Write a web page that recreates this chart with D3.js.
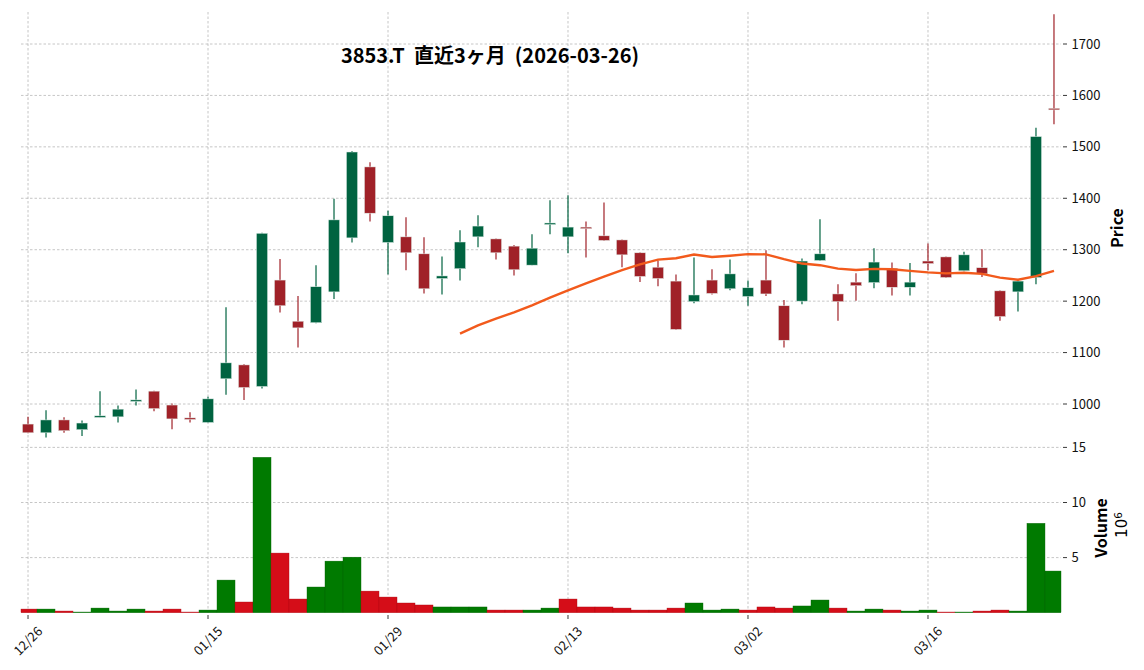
<!DOCTYPE html>
<html><head><meta charset="utf-8">
<script src="https://cdn.jsdelivr.net/npm/d3@7"></script>
<style>
html,body{margin:0;padding:0;background:#fff;}
text{font-family:"Noto Sans CJK JP","Noto Sans",sans-serif;}
</style></head>
<body>
<svg id="chart" width="1144" height="670"></svg>
<script>
const dates = ["12/26","12/29","12/30","01/05","01/06","01/07","01/08","01/09","01/13","01/14",
"01/15","01/16","01/19","01/20","01/21","01/22","01/23","01/26","01/27","01/28",
"01/29","01/30","02/02","02/03","02/04","02/05","02/06","02/09","02/10","02/12",
"02/13","02/16","02/17","02/18","02/19","02/20","02/24","02/25","02/26","02/27",
"03/02","03/03","03/04","03/05","03/06","03/09","03/10","03/11","03/12","03/13",
"03/16","03/17","03/18","03/19","03/23","03/24","03/25","03/26"];
const opens  = [961,944,969,950,974,975,1005,1025,998,973,964,1049,1076,1034,1241,1161,1158,1218,1323,1461,
1314,1325,1292,1244,1263,1325,1321,1307,1270,1349,1325,1344,1327,1319,1294,1266,1239,1199,1241,1224,
1209,1241,1191,1200,1279,1214,1237,1236,1264,1227,1278,1286,1259,1265,1220,1218,1246,1575];
const highs  = [975,988,974,968,1025,997,1028,1026,1001,984,1014,1188,1078,1333,1282,1210,1270,1399,1492,1470,
1376,1363,1324,1287,1338,1367,1322,1309,1330,1396,1406,1355,1392,1320,1295,1279,1252,1285,1262,1281,
1240,1299,1202,1283,1359,1233,1254,1303,1275,1274,1312,1287,1296,1301,1221,1243,1537,1758];
const lows   = [943,935,944,938,974,964,997,986,951,964,963,1018,1008,1030,1178,1110,1157,1204,1314,1355,
1252,1260,1215,1213,1240,1305,1281,1250,1270,1330,1293,1285,1317,1266,1237,1229,1144,1196,1213,1221,
1191,1210,1110,1194,1278,1162,1201,1225,1211,1211,1260,1245,1258,1247,1162,1180,1233,1544];
const closes = [944,969,948,963,977,990,1008,991,971,970,1010,1080,1032,1332,1191,1148,1228,1358,1490,1371,
1366,1294,1224,1249,1315,1346,1294,1261,1303,1352,1344,1341,1318,1290,1248,1244,1145,1212,1215,1253,
1226,1214,1124,1278,1292,1199,1230,1276,1227,1237,1273,1246,1290,1253,1170,1239,1520,1573];
const volumes = [0.33,0.33,0.15,0.06,0.42,0.15,0.33,0.15,0.33,0.06,0.24,2.96,0.97,14.1,5.41,1.24,2.33,4.68,5.04,1.96,
1.42,0.88,0.70,0.52,0.52,0.52,0.24,0.24,0.24,0.42,1.24,0.52,0.52,0.42,0.24,0.24,0.42,0.88,0.24,0.33,
0.24,0.52,0.42,0.61,1.15,0.42,0.15,0.33,0.24,0.15,0.24,0.06,0.06,0.15,0.24,0.15,8.11,3.78];
const xTickIdx = [0,10,20,30,40,50];
const priceTicks = [1000,1100,1200,1300,1400,1500,1600,1700];
const volTicks = [5,10,15];
const maPeriod = 25;
const titleText = "3853.T  直近3ヶ月  (2026-03-26)";

const C = {up:"#006340", down:"#A02128", vup:"#007a00", vdown:"#d50d18", ma:"#f25a1c", grid:"#b8b8b8"};
const svg = d3.select("#chart");
const L = 21, R = 1061, PT = 12, PB = 447, VT = 447.4, VB = 612.7;
const n = closes.length;
const x = d3.scaleLinear().domain([-0.39, n - 1 + 0.39]).range([L, R]);
const y = d3.scaleLinear().domain([1000, 1700]).range([404, 44]);
const yv = d3.scaleLinear().domain([0, 15]).range([VB, VT]);
const step = x(1) - x(0);

// grid
const g = svg.append("g");
g.selectAll(".vg").data(xTickIdx).join("line")
  .attr("x1", d => x(d)).attr("x2", d => x(d)).attr("y1", PT).attr("y2", VB)
  .attr("stroke", C.grid).attr("stroke-width", 0.8).attr("stroke-dasharray", "2.5,2");
g.selectAll(".hg").data(priceTicks).join("line")
  .attr("x1", L).attr("x2", R).attr("y1", d => y(d)).attr("y2", d => y(d))
  .attr("stroke", C.grid).attr("stroke-width", 0.8).attr("stroke-dasharray", "2.5,2");
g.selectAll(".hv").data(volTicks).join("line")
  .attr("x1", L).attr("x2", R).attr("y1", d => yv(d)).attr("y2", d => yv(d))
  .attr("stroke", C.grid).attr("stroke-width", 0.8).attr("stroke-dasharray", "2.5,2");

// volume
const idx = d3.range(n);
const vColor = i => (i > 0 && closes[i] >= closes[i-1]) ? C.vup : C.vdown;
svg.append("g").selectAll("rect").data(idx).join("rect")
  .attr("x", i => Math.max(L, x(i) - step/2))
  .attr("width", i => Math.min(R, x(i) + step/2) - Math.max(L, x(i) - step/2))
  .attr("y", i => yv(volumes[i])).attr("height", i => yv(0) - yv(volumes[i]))
  .attr("fill", vColor).attr("stroke", i => d3.color(vColor(i)).darker(0.6)).attr("stroke-width", 0.4);

// candles
const cg = svg.append("g");
const cColor = i => closes[i] >= opens[i] ? C.up : C.down;
cg.selectAll("line").data(idx).join("line")
  .attr("x1", i => x(i)).attr("x2", i => x(i))
  .attr("y1", i => y(highs[i])).attr("y2", i => y(lows[i]))
  .attr("stroke", cColor).attr("stroke-width", 1.2);
const bw = step * 0.62;
cg.selectAll("rect").data(idx).join("rect")
  .attr("x", i => x(i) - bw/2).attr("width", bw)
  .attr("y", i => y(Math.max(opens[i], closes[i])))
  .attr("height", i => Math.max(1.6, Math.abs(y(opens[i]) - y(closes[i]))))
  .attr("fill", cColor).attr("stroke", "#e4f0ec").attr("stroke-width", 0.5);

// moving average
const ma = idx.map(i => i < maPeriod - 1 ? null : d3.mean(closes.slice(i - maPeriod + 1, i + 1)));
svg.append("path").datum(idx.filter(i => ma[i] !== null))
  .attr("d", d3.line().x(i => x(i)).y(i => y(ma[i])))
  .attr("fill", "none").attr("stroke", C.ma).attr("stroke-width", 2.4);

// right axes
const ax = svg.append("g");
const tickRow = (vals, sc, fmt) => {
  ax.append("g").selectAll("line").data(vals).join("line")
    .attr("x1", 1063).attr("x2", 1067).attr("y1", d => sc(d)).attr("y2", d => sc(d))
    .attr("stroke", "#222").attr("stroke-width", 0.9);
  ax.append("g").selectAll("text").data(vals).join("text")
    .attr("x", 1071.5).attr("y", d => sc(d)).attr("dy", "0.35em")
    .attr("font-size", 13).attr("fill", "#111").text(fmt);
};
tickRow(priceTicks, y, d => d);
tickRow(volTicks, yv, d => d);

// x axis
ax.append("g").selectAll("line").data(xTickIdx).join("line")
  .attr("x1", d => x(d)).attr("x2", d => x(d)).attr("y1", 615).attr("y2", 619)
  .attr("stroke", "#222").attr("stroke-width", 0.9);
ax.append("g").selectAll("text").data(xTickIdx).join("text")
  .attr("transform", d => `translate(${x(d)},641) rotate(-45)`)
  .attr("text-anchor", "middle").attr("dy", "0.35em")
  .attr("font-size", 13).attr("fill", "#111").text(d => dates[d]);

// axis labels
svg.append("text").attr("transform", "translate(1117,228) rotate(-90)")
  .attr("text-anchor", "middle").attr("dy", "0.35em")
  .attr("font-size", 16).attr("font-weight", "bold").text("Price");
svg.append("text").attr("transform", "translate(1101,528) rotate(-90)")
  .attr("text-anchor", "middle").attr("dy", "0.35em")
  .attr("font-size", 16).attr("font-weight", "bold").text("Volume");
const e6 = svg.append("text").attr("transform", "translate(1122,525) rotate(-90)")
  .attr("text-anchor", "middle").attr("dy", "0.35em").attr("font-size", 15)
  .style("font-family", "'DejaVu Sans', sans-serif");
e6.append("tspan").text("10");
e6.append("tspan").attr("dy", "-0.5em").attr("font-size", 10.5).text("6");

// title
svg.append("text").attr("x", 490).attr("y", 56).attr("dy", "0.35em")
  .attr("text-anchor", "middle").attr("font-size", 20).attr("font-weight", "bold")
  .attr("xml:space", "preserve")
  .style("white-space", "pre").text(titleText);
</script>
</body></html>
